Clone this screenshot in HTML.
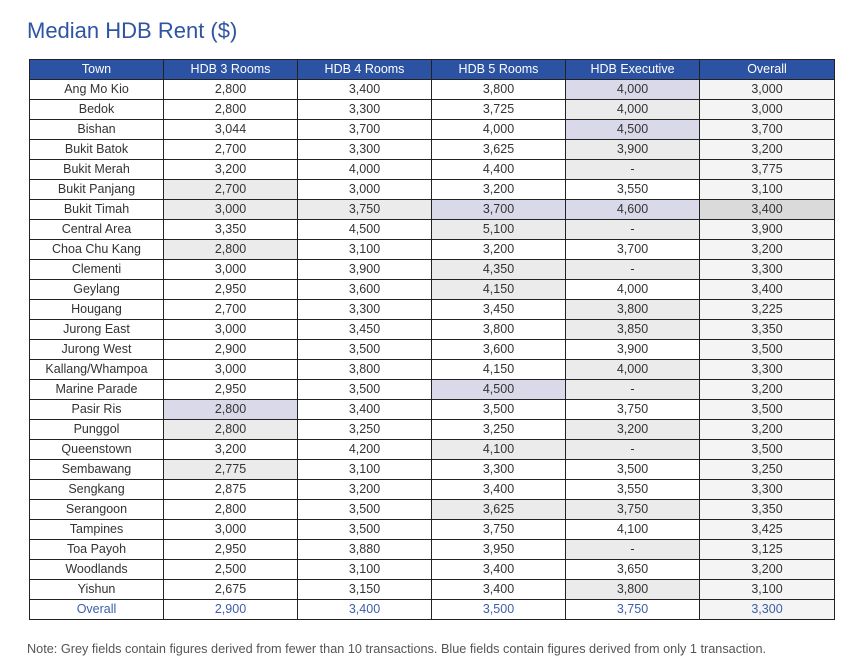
<!DOCTYPE html>
<html><head><meta charset="utf-8"><style>
body{margin:0;width:862px;height:667px;background:#fff;font-family:"Liberation Sans",sans-serif;position:relative;overflow:hidden}
h1{position:absolute;left:27px;top:18px;margin:0;font-weight:normal;font-size:22px;color:#2f54a0}
table{position:absolute;left:29px;top:59px;border-collapse:collapse;table-layout:fixed;width:805px}
td,th{height:19px;padding:0;border:1.3px solid #222;text-align:center;font-size:12.5px;color:#333;font-weight:normal;line-height:19px}
th{background:#2c53a3;color:#fff;border-color:#222}
td:nth-child(6){background:#f4f4f4}
.g{background:#ebebeb!important}.b{background:#d9d9e9!important}.d{background:#dadada!important}
tr.o td{color:#3b5fa8}
.note{position:absolute;left:27px;top:642px;font-size:12.7px;color:#555}
</style></head><body>
<h1>Median HDB Rent ($)</h1>
<table>
<colgroup><col style="width:134px"><col style="width:134px"><col style="width:134px"><col style="width:134px"><col style="width:134px"><col style="width:135px"></colgroup>
<tr><th>Town</th><th>HDB 3 Rooms</th><th>HDB 4 Rooms</th><th>HDB 5 Rooms</th><th>HDB Executive</th><th>Overall</th></tr>
<tr><td>Ang Mo Kio</td><td>2,800</td><td>3,400</td><td>3,800</td><td class="b">4,000</td><td>3,000</td></tr>
<tr><td>Bedok</td><td>2,800</td><td>3,300</td><td>3,725</td><td class="g">4,000</td><td>3,000</td></tr>
<tr><td>Bishan</td><td>3,044</td><td>3,700</td><td>4,000</td><td class="b">4,500</td><td>3,700</td></tr>
<tr><td>Bukit Batok</td><td>2,700</td><td>3,300</td><td>3,625</td><td class="g">3,900</td><td>3,200</td></tr>
<tr><td>Bukit Merah</td><td>3,200</td><td>4,000</td><td>4,400</td><td class="g">-</td><td>3,775</td></tr>
<tr><td>Bukit Panjang</td><td class="g">2,700</td><td>3,000</td><td>3,200</td><td>3,550</td><td>3,100</td></tr>
<tr><td>Bukit Timah</td><td class="g">3,000</td><td class="g">3,750</td><td class="b">3,700</td><td class="b">4,600</td><td class="d">3,400</td></tr>
<tr><td>Central Area</td><td>3,350</td><td>4,500</td><td class="g">5,100</td><td class="g">-</td><td>3,900</td></tr>
<tr><td>Choa Chu Kang</td><td class="g">2,800</td><td>3,100</td><td>3,200</td><td>3,700</td><td>3,200</td></tr>
<tr><td>Clementi</td><td>3,000</td><td>3,900</td><td class="g">4,350</td><td class="g">-</td><td>3,300</td></tr>
<tr><td>Geylang</td><td>2,950</td><td>3,600</td><td class="g">4,150</td><td>4,000</td><td>3,400</td></tr>
<tr><td>Hougang</td><td>2,700</td><td>3,300</td><td>3,450</td><td class="g">3,800</td><td>3,225</td></tr>
<tr><td>Jurong East</td><td>3,000</td><td>3,450</td><td>3,800</td><td class="g">3,850</td><td>3,350</td></tr>
<tr><td>Jurong West</td><td>2,900</td><td>3,500</td><td>3,600</td><td>3,900</td><td>3,500</td></tr>
<tr><td>Kallang/Whampoa</td><td>3,000</td><td>3,800</td><td>4,150</td><td class="g">4,000</td><td>3,300</td></tr>
<tr><td>Marine Parade</td><td>2,950</td><td>3,500</td><td class="b">4,500</td><td class="g">-</td><td>3,200</td></tr>
<tr><td>Pasir Ris</td><td class="b">2,800</td><td>3,400</td><td>3,500</td><td>3,750</td><td>3,500</td></tr>
<tr><td>Punggol</td><td class="g">2,800</td><td>3,250</td><td>3,250</td><td class="g">3,200</td><td>3,200</td></tr>
<tr><td>Queenstown</td><td>3,200</td><td>4,200</td><td class="g">4,100</td><td class="g">-</td><td>3,500</td></tr>
<tr><td>Sembawang</td><td class="g">2,775</td><td>3,100</td><td>3,300</td><td>3,500</td><td>3,250</td></tr>
<tr><td>Sengkang</td><td>2,875</td><td>3,200</td><td>3,400</td><td>3,550</td><td>3,300</td></tr>
<tr><td>Serangoon</td><td>2,800</td><td>3,500</td><td class="g">3,625</td><td class="g">3,750</td><td>3,350</td></tr>
<tr><td>Tampines</td><td>3,000</td><td>3,500</td><td>3,750</td><td>4,100</td><td>3,425</td></tr>
<tr><td>Toa Payoh</td><td>2,950</td><td>3,880</td><td>3,950</td><td class="g">-</td><td>3,125</td></tr>
<tr><td>Woodlands</td><td>2,500</td><td>3,100</td><td>3,400</td><td>3,650</td><td>3,200</td></tr>
<tr><td>Yishun</td><td>2,675</td><td>3,150</td><td>3,400</td><td class="g">3,800</td><td>3,100</td></tr>
<tr class="o"><td>Overall</td><td>2,900</td><td>3,400</td><td>3,500</td><td>3,750</td><td>3,300</td></tr>
</table>
<div class="note">Note: Grey fields contain figures derived from fewer than 10 transactions. Blue fields contain figures derived from only 1 transaction.</div>
</body></html>
